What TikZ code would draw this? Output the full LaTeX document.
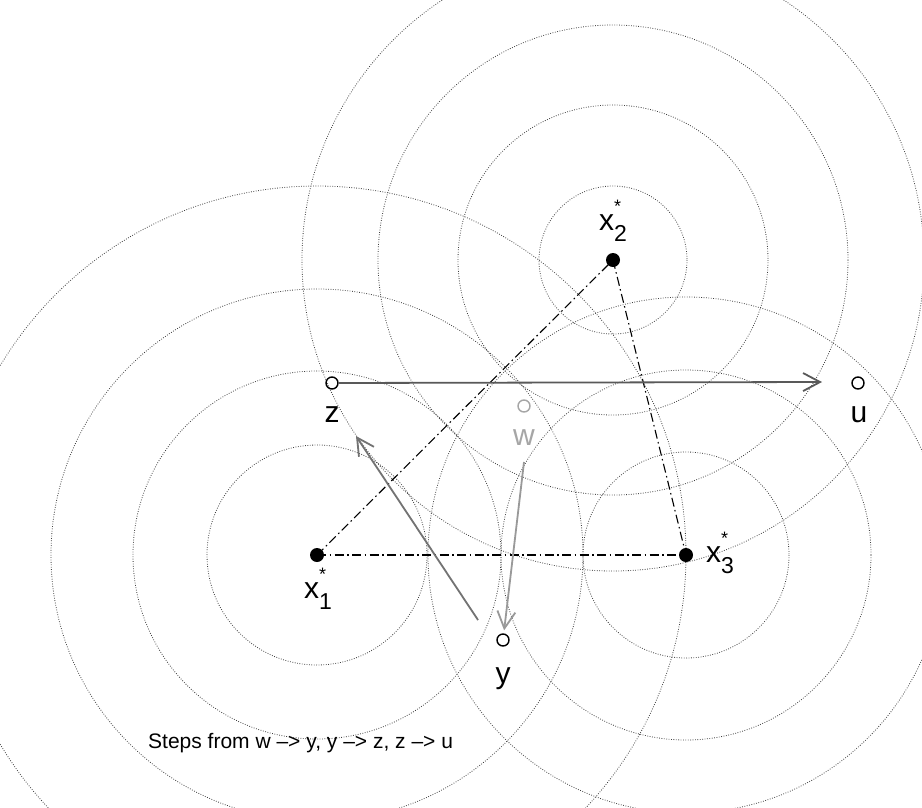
\documentclass[tikz,border=0pt]{standalone}
\usepackage{fontspec}
\setmainfont{Liberation Sans}
\usetikzlibrary{arrows.meta}
\newcommand{\xstar}[1]{x\rlap{\raisebox{18pt}{\fontsize{18}{18}\selectfont *}}\raisebox{-11pt}{\fontsize{23}{23}\selectfont #1}}
\begin{document}
\begin{tikzpicture}[x=1pt,y=-1pt,
  ring/.style={draw=black!75, line width=0.8pt, dash pattern=on 0.8pt off 1.6pt},
  fixpt/.style={circle, fill=black, inner sep=0pt, minimum size=14pt},
  iter/.style={circle, draw=black, line width=1.4pt, inner sep=0pt, minimum size=12pt},
  lbl/.style={font=\fontsize{30}{36}\selectfont, inner sep=0pt},
  link/.style={line width=1.1pt, dash pattern=on 9pt off 3.5pt on 1.5pt off 3.5pt},
  stepline/.style={line width=1.8pt, -{Straight Barb[length=17pt,width=18pt,line width=1.8pt]}}
]
\useasboundingbox (0,0) rectangle (922,807);
\fill[white] (0,0) rectangle (922,807);
\coordinate (c1) at (317,555);
\coordinate (c2) at (613,260);
\coordinate (c3) at (686,555);
\begin{scope}
\clip (0,0) rectangle (922,807);
\foreach \r in {110,184,266,369} \draw[ring] (c1) circle[radius=\r];
\foreach \r in {74,155,235,311} \draw[ring] (c2) circle[radius=\r];
\foreach \r in {103,185,258} \draw[ring] (c3) circle[radius=\r];
\end{scope}
\draw[link] (c1) -- (c2);
\draw[link] (c2) -- (c3);
\draw[link] (c1) -- (c3);
\node[fixpt] (x1) at (c1) {};
\node[fixpt] (x2) at (c2) {};
\node[fixpt] (x3) at (c3) {};
\node[lbl, anchor=base west] (l1) at (304,598) {\xstar{1}};
\node[lbl, anchor=base west] (l2) at (599,230) {\xstar{2}};
\node[lbl, anchor=base west] (l3) at (706,562) {\xstar{3}};
\node[iter] (z) at (332,383) {};
\node[iter] (u) at (858,383) {};
\node[iter, draw=black!35] (w) at (524,406) {};
\node[iter] (y) at (503,640) {};
\node[lbl, anchor=base] (lz) at (332,422) {z};
\node[lbl, anchor=base] (lu) at (859,422) {u};
\node[lbl, anchor=base, text=black!35] (lw) at (524,445) {w};
\node[lbl, anchor=base] (ly) at (503,683) {y};
\coordinate (utip) at (822,382);
\coordinate (wstart) at (524,462);
\coordinate (ystart) at (478,620);
\coordinate (ztip) at (356,436);
\draw[stepline, draw=black!65] (z) -- (utip);
\draw[stepline, draw=black!40, shorten >=3pt] (wstart) -- (y);
\draw[stepline, draw=black!55] (ystart) -- (ztip);
\node[anchor=base west, font=\fontsize{21}{25}\selectfont, inner sep=0pt] (cap) at (148,748) {Steps from w –> y, y –> z, z –> u};
\end{tikzpicture}
\end{document}
